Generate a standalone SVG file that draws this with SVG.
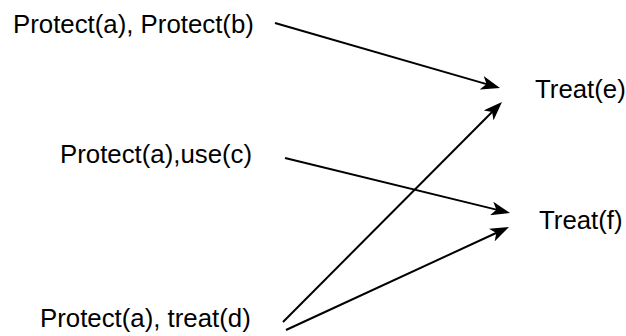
<svg xmlns="http://www.w3.org/2000/svg" width="626" height="336" viewBox="0 0 626 336">
<style>
.t{font-family:"Liberation Sans",Arial,sans-serif;font-size:25.8px;fill:#000}
.e{stroke:#000;stroke-width:2;fill:none;marker-end:url(#ah)}
</style>
<defs>
<marker id="ah" viewBox="0 0 19 14" markerWidth="19" markerHeight="14" refX="6" refY="7" orient="auto" markerUnits="userSpaceOnUse">
<path d="M0,0 L19,7 L0,14 L5,7 Z" fill="#000"/>
</marker>
</defs>
<rect width="626" height="336" fill="#fff"/>
<g id="connectors">
<line class="e" x1="275" y1="23" x2="487.5" y2="84.4"/>
<line class="e" x1="285" y1="158" x2="497.4" y2="209.9"/>
<line class="e" x1="283" y1="322" x2="492.8" y2="111.2"/>
<line class="e" x1="286" y1="330" x2="497.2" y2="232.5"/>
</g>
<g id="n1"><text class="t" x="13" y="33">Protect(a), Protect(b)</text></g>
<g id="n2"><text class="t" x="60" y="163">Protect(a),use(c)</text></g>
<g id="n3"><text class="t" x="40" y="327">Protect(a), treat(d)</text></g>
<g id="n4"><text class="t" x="535" y="98">Treat(e)</text></g>
<g id="n5"><text class="t" x="539" y="229">Treat(f)</text></g>
</svg>
